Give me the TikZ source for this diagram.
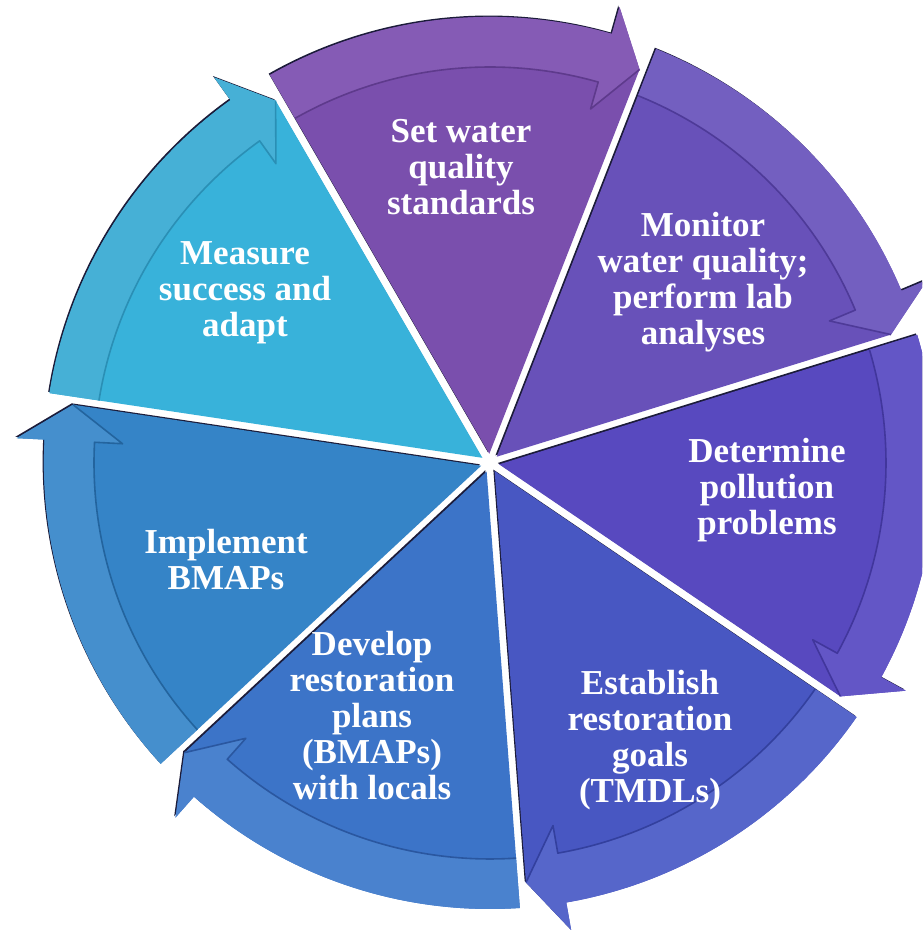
\documentclass[tikz,border=0pt]{standalone}
\usepackage{fontspec}
\setmainfont{Liberation Serif}
\usetikzlibrary{calc}
\definecolor{rim}{HTML}{1C1C3A}
\definecolor{mW}{HTML}{38B2DA}\definecolor{mB}{HTML}{46B0D6}\definecolor{mE}{HTML}{2A8FB5}
\definecolor{sW}{HTML}{7A4FAD}\definecolor{sB}{HTML}{855BB5}\definecolor{sE}{HTML}{5E3A8C}
\definecolor{nW}{HTML}{6851B9}\definecolor{nB}{HTML}{735FC0}\definecolor{nE}{HTML}{4E3A98}
\definecolor{dW}{HTML}{5849BF}\definecolor{dB}{HTML}{6356C6}\definecolor{dE}{HTML}{41369C}
\definecolor{eW}{HTML}{4857C2}\definecolor{eB}{HTML}{5666CA}\definecolor{eE}{HTML}{33409E}
\definecolor{vW}{HTML}{3C74C8}\definecolor{vB}{HTML}{4A82CE}\definecolor{vE}{HTML}{2A57A0}
\definecolor{iW}{HTML}{3584C7}\definecolor{iB}{HTML}{458FCD}\definecolor{iE}{HTML}{23649E}
\newcommand\segoutline[1]{($(#1)+(\m:9.2)$) -- ($(#1)+(\a:446)+({\a-90}:4)$) arc[start angle={\a-0.5}, end angle={\b+5.5}, radius=446] -- ($(#1)+({\b+5.5}:474)$) -- ($(#1)+(\b:421)+({\b+90}:4)$) -- cycle}
\newcommand\bandoutline[1]{($(#1)+(\a:446)+({\a-90}:4)$) arc[start angle={\a-0.5}, end angle={\b+5.5}, radius=446] -- ($(#1)+({\b+5.5}:474)$) -- ($(#1)+(\b:421)+({\b+90}:4)$) -- ($(#1)+({\b+5.5}:368)$) -- ($(#1)+({\b+5.5}:396)$) arc[start angle={\b+5.5}, end angle={\a-0.58}, radius=396] -- cycle}
\begin{document}
\begin{tikzpicture}[x=1pt,y=1pt,
  lbl/.style={text=white, font=\bfseries\fontsize{35}{36}\selectfont, align=center, inner sep=0pt},
  bandedge/.style={line width=1.6pt, line join=round}]
\useasboundingbox (0,0) rectangle (922,933);
\fill[white] (0,0) rectangle (922,933);
\clip (0,0) rectangle (922,933);
\coordinate (C) at (490,470);
\coordinate (Cs) at (488.7,471.4);
\foreach \k/\wc/\bc/\ec in {0/mW/mB/mE, 1/sW/sB/sE, 2/nW/nB/nE, 3/dW/dB/dE, 4/eW/eB/eE, 5/vW/vB/vE, 6/iW/iB/iE}{
  \pgfmathsetmacro\a{171.5-51.4286*\k}
  \pgfmathsetmacro\b{\a-51.4286}
  \pgfmathsetmacro\m{(\a+\b)/2}
  \fill[rim] \segoutline{Cs};
  \fill[\wc] \segoutline{C};
  \fill[\bc] \bandoutline{C};
  \draw[bandedge, \ec] ($(C)+({\a-0.58}:396)$) arc[start angle={\a-0.58}, end angle={\b+5.5}, radius=396] -- ($(C)+({\b+5.5}:368)$) -- ($(C)+(\b:421)+({\b+90}:4)$);
}
\node[lbl] (measure) at (245,640) {Measure\\success and\\adapt};
\node[lbl] (set) at (461,766) {Set water\\quality\\standards};
\node[lbl] (monitor) at (703,651) {Monitor\\water quality;\\perform lab\\analyses};
\node[lbl] (determine) at (767,443) {Determine\\pollution\\problems};
\node[lbl] (establish) at (650,193) {Establish\\restoration\\goals\\(TMDLs)};
\node[lbl] (develop) at (372,217) {Develop\\restoration\\plans\\(BMAPs)\\with locals};
\node[lbl] (implement) at (226,373) {Implement\\BMAPs};
\end{tikzpicture}
\end{document}
